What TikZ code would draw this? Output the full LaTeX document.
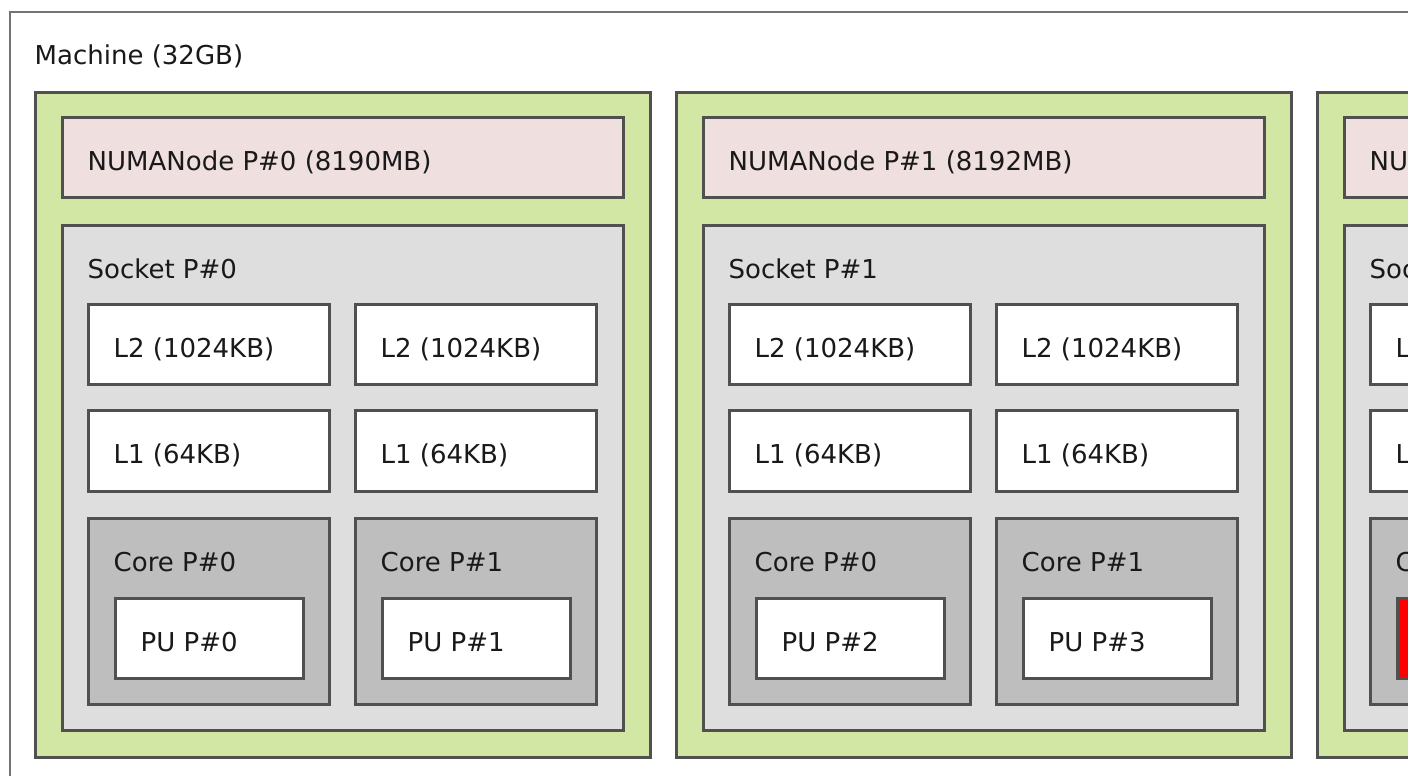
\documentclass[tikz,border=0pt]{standalone}
\usepackage{fontspec}
\setmainfont{DejaVu Sans}
\definecolor{bord}{RGB}{80,80,80}
\definecolor{mbord}{RGB}{115,115,115}
\definecolor{numa}{HTML}{D2E7A4}
\definecolor{mem}{HTML}{EFDFDE}
\definecolor{sock}{HTML}{DEDEDE}
\definecolor{core}{HTML}{BEBEBE}
\definecolor{txt}{RGB}{25,25,25}
\newcommand\mkbox[7]{%
  \node[boxst, fill=#6, minimum width=#4pt, minimum height=#5pt] (#1) at (#2,#3) {};
  \node[lblst] (#1-l) at ([xshift=25.5pt, yshift=-53pt]#1.north west) {#7};
}
\begin{document}
\begin{tikzpicture}[x=1pt,y=-1pt,
  boxst/.style={draw=bord, line width=3pt, inner sep=0pt, outer sep=0pt, anchor=north west, rectangle},
  lblst/.style={anchor=base west, inner sep=0pt, text=txt, font=\fontsize{26}{30}\selectfont}]
\useasboundingbox (0,0) rectangle (1408,776);
\clip (0,0) rectangle (1408,776);
\fill[white] (0,0) rectangle (1408,776);
% machine
\node[boxst, draw=mbord, line width=2pt, fill=white, minimum width=1500pt, minimum height=771pt] (mach) at (10,12) {};
\node[lblst] (mach-l) at ([xshift=24.5pt, yshift=-53pt]mach.north west) {Machine (32GB)};
% column 0
\mkbox{n0}{35}{92}{615}{665}{numa}{}
\mkbox{m0}{62}{117}{561}{80}{mem}{NUMANode P\#0 (8190MB)}
\mkbox{s0}{62}{225}{561}{505}{sock}{Socket P\#0}
\mkbox{l2a0}{88}{304}{241}{80}{white}{L2 (1024KB)}
\mkbox{l2b0}{355}{304}{241}{80}{white}{L2 (1024KB)}
\mkbox{l1a0}{88}{410}{241}{81}{white}{L1 (64KB)}
\mkbox{l1b0}{355}{410}{241}{81}{white}{L1 (64KB)}
\mkbox{ca0}{88}{518}{241}{186}{core}{Core P\#0}
\mkbox{cb0}{355}{518}{241}{186}{core}{Core P\#1}
\mkbox{pa0}{115}{598}{188}{80}{white}{PU P\#0}
\mkbox{pb0}{382}{598}{188}{80}{white}{PU P\#1}
% column 1
\mkbox{n1}{676}{92}{615}{665}{numa}{}
\mkbox{m1}{703}{117}{561}{80}{mem}{NUMANode P\#1 (8192MB)}
\mkbox{s1}{703}{225}{561}{505}{sock}{Socket P\#1}
\mkbox{l2a1}{729}{304}{241}{80}{white}{L2 (1024KB)}
\mkbox{l2b1}{996}{304}{241}{80}{white}{L2 (1024KB)}
\mkbox{l1a1}{729}{410}{241}{81}{white}{L1 (64KB)}
\mkbox{l1b1}{996}{410}{241}{81}{white}{L1 (64KB)}
\mkbox{ca1}{729}{518}{241}{186}{core}{Core P\#0}
\mkbox{cb1}{996}{518}{241}{186}{core}{Core P\#1}
\mkbox{pa1}{756}{598}{188}{80}{white}{PU P\#2}
\mkbox{pb1}{1023}{598}{188}{80}{white}{PU P\#3}
% column 2 (cut off at the right edge, as in the reference)
\mkbox{n2}{1317}{92}{615}{665}{numa}{}
\mkbox{m2}{1344}{117}{561}{80}{mem}{NUMANode P\#2 (8192MB)}
\mkbox{s2}{1344}{225}{561}{505}{sock}{Socket P\#2}
\mkbox{l2a2}{1370}{304}{241}{80}{white}{L2 (1024KB)}
\mkbox{l1a2}{1370}{410}{241}{81}{white}{L1 (64KB)}
\mkbox{ca2}{1370}{518}{241}{186}{core}{Core P\#0}
\mkbox{pa2}{1397}{598}{188}{80}{red}{}
\end{tikzpicture}
\end{document}
